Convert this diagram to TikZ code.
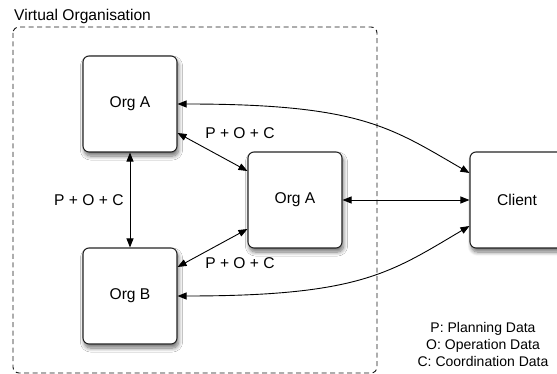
\documentclass[tikz,border=0pt]{standalone}
\usepackage{fontspec}
\setmainfont{Liberation Sans}
\usetikzlibrary{arrows.meta,shadows.blur}
\begin{document}
\begin{tikzpicture}[x=1pt,y=-1pt,
  font=\fontsize{15.6}{18}\selectfont,
  orgbox/.style={draw=black!85, line width=1.1pt, fill=white, rounded corners=6pt,
    minimum width=94pt, minimum height=96pt, inner sep=0pt,
    blur shadow={shadow xshift=1.5pt, shadow yshift=-4pt, shadow blur steps=8, shadow blur radius=4pt, shadow opacity=55}},
  link/.style={line width=0.9pt, {Triangle[length=9pt,width=7pt]}-{Triangle[length=9pt,width=7pt]}},
  tag/.style={inner sep=1pt}
]
\useasboundingbox (0,0) rectangle (557,374);

% virtual organisation boundary
\draw[black!90, line width=0.9pt, dash pattern=on 5pt off 3.5pt, rounded corners=6pt,
      fill=white] (13,27) rectangle (377,373);
\node[anchor=west, tag] (vo) at (13,16) {Virtual Organisation};

% organisations and client
\node[orgbox] (orgA) at (130,104) {Org A};
\node[orgbox] (orgB) at (130,296) {Org B};
\node[orgbox] (orgM) at (295,200) {Org A};
\node[orgbox] (client) at (517,200) {Client};

% data flows
\draw[link] (orgA.south) -- node[tag, left=5pt] (l1) {P + O + C} (orgB.north);
\draw[link] ([yshift=-29pt]orgA.east) -- ([yshift=29pt]orgM.west);
\draw[link] ([yshift=29pt]orgB.east) -- ([yshift=-29pt]orgM.west);
\draw[link] (orgM.east) -- (client.west);
\draw[link] (orgA.east) .. controls (360,104) and (390,127) .. ([yshift=27pt]client.west);
\draw[link] (orgB.east) .. controls (360,296) and (390,273) .. ([yshift=-26pt]client.west);

\node[tag] (l2) at (240,133) {P + O + C};
\node[tag] (l3) at (240,263) {P + O + C};

% legend
\node[align=center, tag, font=\fontsize{14}{17}\selectfont] (legend) at (483,344)
  {P: Planning Data\\O: Operation Data\\C: Coordination Data};
\end{tikzpicture}
\end{document}
